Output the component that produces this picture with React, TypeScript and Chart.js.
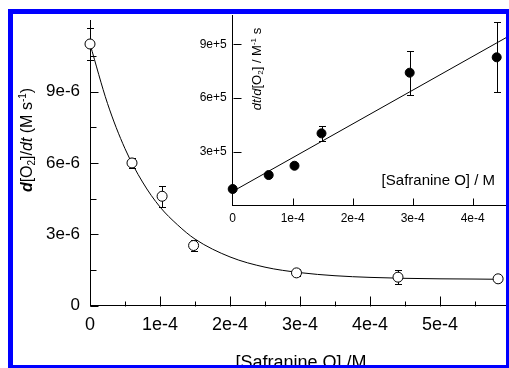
import { useEffect, useRef } from "react";
import { Chart, registerables } from "chart.js";

Chart.register(...registerables);

const FONT = '"Liberation Sans", Arial, Helvetica, sans-serif';

// Main panel: O2 evolution rate against Safranine O concentration
const concentration = [0, 0.6e-4, 1.03e-4, 1.48e-4, 2.95e-4, 4.4e-4, 5.83e-4];
const rate = [11.0e-6, 6.0e-6, 4.6e-6, 2.53e-6, 1.38e-6, 1.2e-6, 1.13e-6];
const rateError = [0.69e-6, 0.2e-6, 0.45e-6, 0.25e-6, 0.15e-6, 0.3e-6, 0.12e-6];

// Fitted decay curve (sampled)
const fitConcentration = [
  0, 0.25e-4, 0.5e-4, 0.75e-4, 1e-4, 1.25e-4, 1.5e-4, 2e-4, 2.5e-4, 3e-4, 3.5e-4, 4e-4, 4.5e-4, 5e-4, 5.5e-4,
  5.85e-4,
];
const fitRate = [
  11.0e-6, 8.5e-6, 6.6e-6, 5.2e-6, 4.15e-6, 3.4e-6, 2.8e-6, 2.05e-6, 1.62e-6, 1.39e-6, 1.26e-6, 1.19e-6, 1.15e-6,
  1.13e-6, 1.12e-6, 1.11e-6,
];

// Inset: reciprocal rate with linear fit
const insetConcentration = [0, 0.6e-4, 1.03e-4, 1.48e-4, 2.95e-4, 4.4e-4];
const inverseRate = [0.91e5, 1.69e5, 2.21e5, 4.02e5, 7.41e5, 8.27e5];
const inverseRateError = [0, 0, 0, 0.4e5, 1.23e5, 1.95e5];
const linearFitConcentration = [0, 4.6e-4];
const linearFitInverseRate = [0.775e5, 9.45e5];

// Axis ticks
const mainXTicks = [0, 1e-4, 2e-4, 3e-4, 4e-4, 5e-4];
const mainXTickLabels = ["0", "1e-4", "2e-4", "3e-4", "4e-4", "5e-4"];
const mainXMinorTicks = [0.5e-4, 1.5e-4, 2.5e-4, 3.5e-4, 4.5e-4, 5.5e-4];
const mainYTicks = [0, 3e-6, 6e-6, 9e-6];
const mainYTickLabels = ["0", "3e-6", "6e-6", "9e-6"];
const mainYMinorTicks = [1.5e-6, 4.5e-6, 7.5e-6, 10.5e-6];
const insetXTicks = [0, 1e-4, 2e-4, 3e-4, 4e-4];
const insetXTickLabels = ["0", "1e-4", "2e-4", "3e-4", "4e-4"];
const insetYTicks = [3e5, 6e5, 9e5];
const insetYTickLabels = ["3e+5", "6e+5", "9e+5"];

type Seg = { t: string; italic?: boolean; bold?: boolean; pos?: "sub" | "sup" };

const mainYTitle: Seg[] = [
  { t: "d", italic: true, bold: true },
  { t: "[O" },
  { t: "2", pos: "sub" },
  { t: "]/" },
  { t: "dt", italic: true },
  { t: " (M s" },
  { t: "-1", pos: "sup" },
  { t: ")" },
];
const mainXTitle: Seg[] = [{ t: "[Safranine O] /M" }];
const insetYTitle: Seg[] = [
  { t: "dt", italic: true },
  { t: "/" },
  { t: "d", italic: true },
  { t: "[O" },
  { t: "2", pos: "sub" },
  { t: "] / M" },
  { t: "-1", pos: "sup" },
  { t: " s" },
];
const insetXTitle: Seg[] = [{ t: "[Safranine O] / M" }];

function drawRichText(
  ctx: CanvasRenderingContext2D,
  segs: Seg[],
  cx: number,
  cy: number,
  size: number,
  angle: number,
  align: "center" | "right"
) {
  ctx.save();
  ctx.translate(cx, cy);
  ctx.rotate(angle);
  ctx.fillStyle = "#000";
  ctx.textBaseline = "alphabetic";
  ctx.textAlign = "left";
  const font = (s: Seg) =>
    `${s.italic ? "italic " : ""}${s.bold ? "bold " : ""}${s.pos ? Math.round(size * 0.65) : size}px ${FONT}`;
  const widths = segs.map((s) => {
    ctx.font = font(s);
    return ctx.measureText(s.t).width;
  });
  const total = widths.reduce((a, b) => a + b, 0);
  let x = align === "center" ? -total / 2 : -total;
  const base = size * 0.35;
  segs.forEach((s, i) => {
    ctx.font = font(s);
    const dy = s.pos === "sub" ? size * 0.22 : s.pos === "sup" ? -size * 0.38 : 0;
    ctx.fillText(s.t, x, base + dy);
    x += widths[i];
  });
  ctx.restore();
}

type TitleSpec = { segs: Seg[]; x: number; y: number; size: number; angle: number; align: "center" | "right" };

function titlesPlugin(titles: TitleSpec[]) {
  return {
    id: "richTitles",
    afterDraw(chart: Chart) {
      titles.forEach((t) => drawRichText(chart.ctx, t.segs, t.x, t.y, t.size, t.angle, t.align));
    },
  };
}

function errorBarsPlugin(datasetIndex: number, errors: number[], cap: number) {
  return {
    id: "errorBars",
    beforeDatasetsDraw(chart: Chart) {
      const { ctx } = chart;
      const xs = chart.scales.x;
      const ys = chart.scales.y;
      const data = chart.data.datasets[datasetIndex].data as { x: number; y: number }[];
      ctx.save();
      ctx.strokeStyle = "#000";
      ctx.lineWidth = 1;
      ctx.beginPath();
      data.forEach((p, i) => {
        const e = errors[i];
        if (!e) return;
        const px = Math.round(xs.getPixelForValue(p.x)) + 0.5;
        const top = Math.round(ys.getPixelForValue(p.y + e)) + 0.5;
        const bot = Math.round(ys.getPixelForValue(p.y - e)) + 0.5;
        ctx.moveTo(px, top);
        ctx.lineTo(px, bot);
        ctx.moveTo(px - cap, top);
        ctx.lineTo(px + cap, top);
        ctx.moveTo(px - cap, bot);
        ctx.lineTo(px + cap, bot);
      });
      ctx.stroke();
      ctx.restore();
    },
  };
}

type TickSpec = {
  xMajor: number[];
  xMinor: number[];
  yMajor: number[];
  yMinor: number[];
  xMajorLen: number;
  xMinorLen: number;
  yMajorLen: number;
  yMinorLen: number;
};

// Tick marks pointing into the plot area
function innerTicksPlugin(spec: TickSpec) {
  return {
    id: "innerTicks",
    afterDatasetsDraw(chart: Chart) {
      const { ctx } = chart;
      const { left, bottom } = chart.chartArea;
      const xs = chart.scales.x;
      const ys = chart.scales.y;
      const l = Math.round(left) + 0.5;
      const b = Math.round(bottom) + 0.5;
      ctx.save();
      ctx.strokeStyle = "#000";
      ctx.lineWidth = 1;
      ctx.beginPath();
      const vx = (v: number, len: number) => {
        const p = Math.round(xs.getPixelForValue(v)) + 0.5;
        ctx.moveTo(p, b);
        ctx.lineTo(p, b - len);
      };
      const hy = (v: number, len: number) => {
        const p = Math.round(ys.getPixelForValue(v)) + 0.5;
        ctx.moveTo(l, p);
        ctx.lineTo(l + len, p);
      };
      spec.xMajor.forEach((v) => vx(v, spec.xMajorLen));
      spec.xMinor.forEach((v) => vx(v, spec.xMinorLen));
      spec.yMajor.forEach((v) => hy(v, spec.yMajorLen));
      spec.yMinor.forEach((v) => hy(v, spec.yMinorLen));
      ctx.stroke();
      ctx.restore();
    },
  };
}

const axisBase = {
  type: "linear" as const,
  grid: { display: true, drawOnChartArea: false, drawTicks: false },
  border: { display: true, color: "#000", width: 1 },
};

export default function App() {
  const mainRef = useRef<HTMLCanvasElement>(null);
  const insetRef = useRef<HTMLCanvasElement>(null);

  useEffect(() => {
    if (!mainRef.current || !insetRef.current) return;

    const main = new Chart(mainRef.current, {
      type: "scatter",
      data: {
        datasets: [
          {
            data: concentration.map((x, i) => ({ x, y: rate[i] })),
            pointRadius: 5,
            pointBackgroundColor: "#fff",
            pointBorderColor: "#000",
            pointBorderWidth: 1,
            showLine: false,
            clip: false,
          },
          {
            type: "line",
            data: fitConcentration.map((x, i) => ({ x, y: fitRate[i] })),
            borderColor: "#000",
            borderWidth: 1,
            pointRadius: 0,
            cubicInterpolationMode: "monotone",
            fill: false,
            clip: false,
          },
        ],
      },
      options: {
        animation: false,
        responsive: false,
        devicePixelRatio: 1,
        layout: { padding: { left: 0, top: 9.7, right: 10, bottom: 0 } },
        plugins: { legend: { display: false }, tooltip: { enabled: false } },
        scales: {
          x: {
            ...axisBase,
            position: "bottom",
            min: 0,
            max: 6e-4,
            afterBuildTicks: (s: any) => {
              s.ticks = mainXTicks.map((value) => ({ value }));
            },
            afterFit: (s: any) => {
              s.height = 94.3;
            },
            ticks: {
              autoSkip: false,
              maxRotation: 0,
              minRotation: 0,
              padding: 8.5,
              color: "#000",
              font: { family: FONT, size: 18 },
              callback: (_v: any, i: number) => mainXTickLabels[i],
            },
          },
          y: {
            ...axisBase,
            position: "left",
            min: 0,
            max: 12e-6,
            afterBuildTicks: (s: any) => {
              s.ticks = mainYTicks.map((value) => ({ value }));
            },
            afterFit: (s: any) => {
              s.width = 90;
            },
            ticks: {
              padding: 10,
              color: "#000",
              font: { family: FONT, size: 17 },
              callback: (_v: any, i: number) => mainYTickLabels[i],
            },
          },
        },
      },
      plugins: [
        errorBarsPlugin(0, rateError, 3.5),
        innerTicksPlugin({
          xMajor: mainXTicks,
          xMinor: mainXMinorTicks,
          yMajor: mainYTicks,
          yMinor: mainYMinorTicks,
          xMajorLen: 10,
          xMinorLen: 5,
          yMajorLen: 8,
          yMinorLen: 6,
        }),
        titlesPlugin([
          { segs: mainYTitle, x: 26, y: 140, size: 16, angle: -Math.PI / 2, align: "center" },
          { segs: mainXTitle, x: 301, y: 362, size: 18, angle: 0, align: "center" },
        ]),
      ],
    } as any);

    const inset = new Chart(insetRef.current, {
      type: "scatter",
      data: {
        datasets: [
          {
            data: insetConcentration.map((x, i) => ({ x, y: inverseRate[i] })),
            pointRadius: 4.5,
            pointBackgroundColor: "#000",
            pointBorderColor: "#000",
            pointBorderWidth: 1,
            showLine: false,
            clip: false,
          },
          {
            type: "line",
            data: linearFitConcentration.map((x, i) => ({ x, y: linearFitInverseRate[i] })),
            borderColor: "#000",
            borderWidth: 1,
            pointRadius: 0,
            fill: false,
            clip: false,
          },
        ],
      },
      options: {
        animation: false,
        responsive: false,
        devicePixelRatio: 1,
        layout: { padding: { left: 0, top: 15.6, right: 11.3, bottom: 0 } },
        plugins: { legend: { display: false }, tooltip: { enabled: false } },
        scales: {
          x: {
            ...axisBase,
            position: "bottom",
            min: 0,
            max: 4.6e-4,
            afterBuildTicks: (s: any) => {
              s.ticks = insetXTicks.map((value) => ({ value }));
            },
            afterFit: (s: any) => {
              s.height = 34.7;
            },
            ticks: {
              autoSkip: false,
              maxRotation: 0,
              minRotation: 0,
              padding: 6.5,
              color: "#000",
              font: { family: FONT, size: 12 },
              callback: (_v: any, i: number) => insetXTickLabels[i],
            },
          },
          y: {
            ...axisBase,
            position: "left",
            min: 0,
            max: 1.06e6,
            afterBuildTicks: (s: any) => {
              s.ticks = insetYTicks.map((value) => ({ value }));
            },
            afterFit: (s: any) => {
              s.width = 82.7;
            },
            ticks: {
              padding: 6,
              color: "#000",
              font: { family: FONT, size: 12 },
              callback: (_v: any, i: number) => insetYTickLabels[i],
            },
          },
        },
      },
      plugins: [
        errorBarsPlugin(0, inverseRateError, 3.5),
        innerTicksPlugin({
          xMajor: insetXTicks.slice(1),
          xMinor: [],
          yMajor: insetYTicks,
          yMinor: [],
          xMajorLen: 7,
          xMinorLen: 0,
          yMajorLen: 8,
          yMinorLen: 0,
        }),
        titlesPlugin([
          { segs: insetYTitle, x: 106, y: 69, size: 13, angle: -Math.PI / 2, align: "center" },
          { segs: insetXTitle, x: 345, y: 180, size: 15, angle: 0, align: "right" },
        ]),
      ],
    } as any);

    return () => {
      main.destroy();
      inset.destroy();
    };
  }, []);

  return (
    <div
      style={{
        position: "fixed",
        left: 0,
        top: 0,
        width: 509,
        height: 368,
        overflow: "hidden",
        background: "#fff",
      }}
    >
      <canvas
        ref={mainRef}
        width={520}
        height={400}
        style={{ position: "absolute", left: 0, top: 0, width: 520, height: 400 }}
      />
      <canvas
        ref={insetRef}
        width={370}
        height={240}
        style={{ position: "absolute", left: 150, top: 0, width: 370, height: 240 }}
      />
      <div
        style={{
          position: "absolute",
          left: 8,
          top: 9,
          width: 501,
          height: 359,
          boxSizing: "border-box",
          borderStyle: "solid",
          borderColor: "#0000ff",
          borderWidth: "5px 3px 3px 5px",
          pointerEvents: "none",
        }}
      />
    </div>
  );
}
